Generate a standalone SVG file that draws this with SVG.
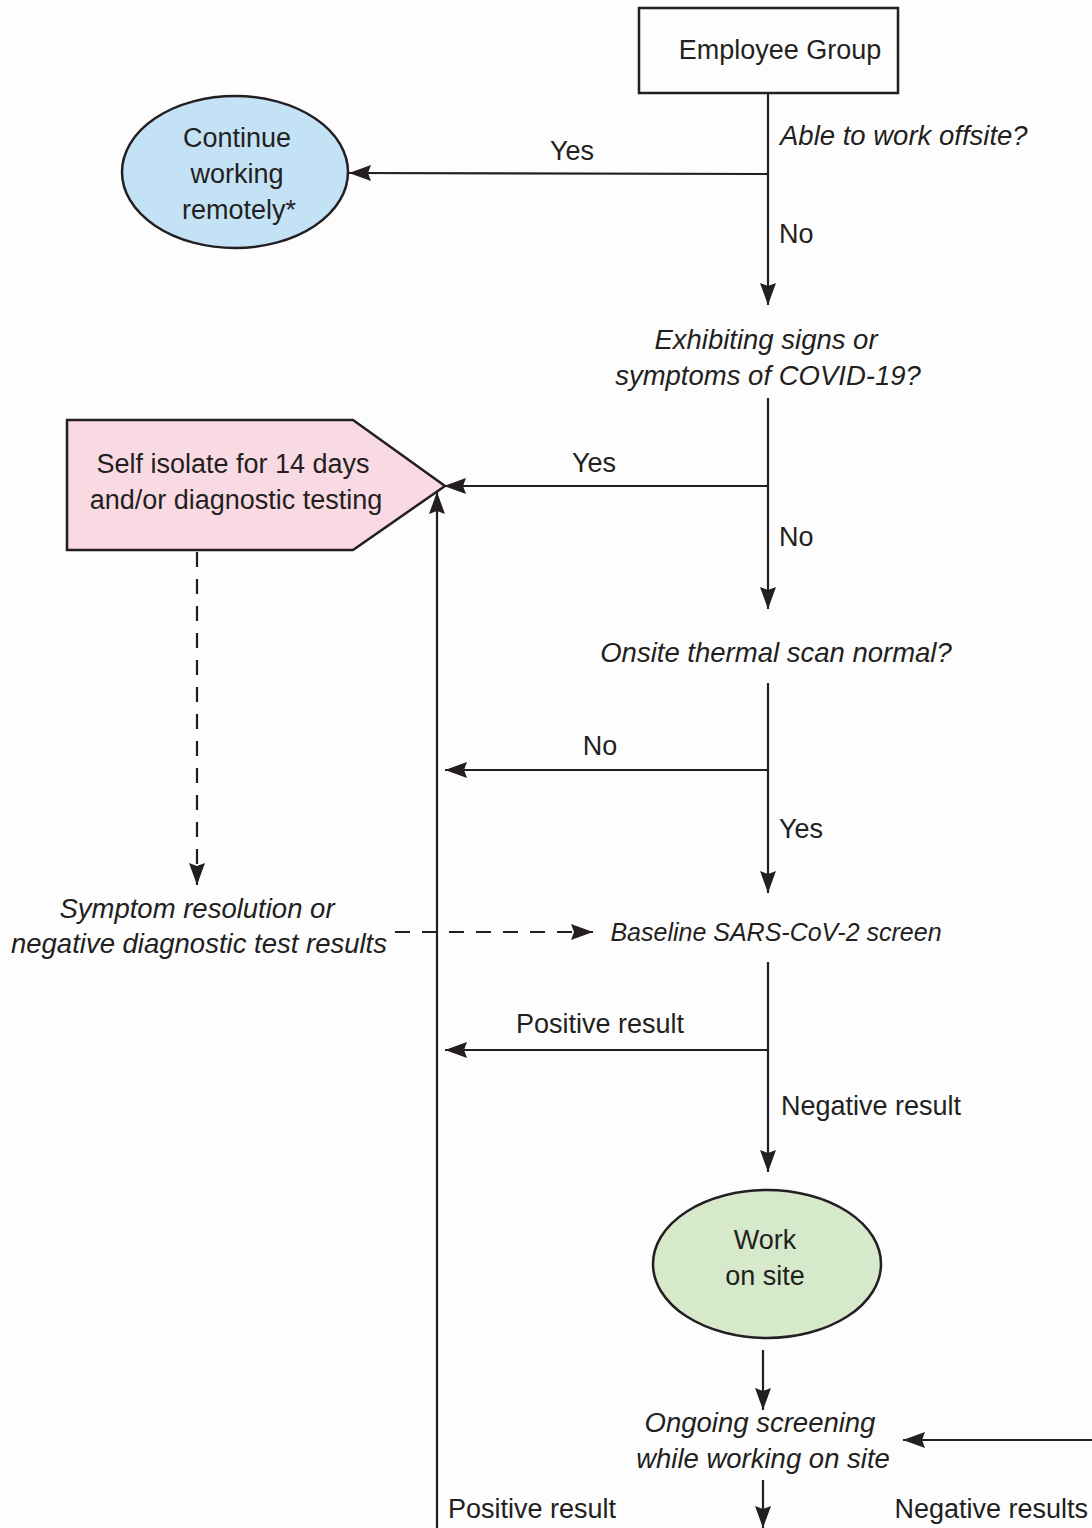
<svg xmlns="http://www.w3.org/2000/svg" width="1092" height="1528" viewBox="0 0 1092 1528">
<style>
text{font-family:"Liberation Sans",Arial,sans-serif;font-size:27px;fill:#231f20}
.i{font-style:italic;font-size:27.5px}
.m{text-anchor:middle}
.ln{stroke:#231f20;stroke-width:2.2;fill:none}
.ds{stroke-dasharray:15 12}
.node{stroke:#231f20;stroke-width:2.5}
</style>
<defs>
<marker id="ah" viewBox="0 0 22 16" refX="22" refY="8" markerWidth="22" markerHeight="16" markerUnits="userSpaceOnUse" orient="auto"><path d="M0,0 L22,8 L0,16 L3,8 z" fill="#231f20"/></marker>
</defs>
<rect width="1092" height="1528" fill="#fdfdfd"/>
<g id="connectors">
<line class="ln" x1="768" y1="93" x2="768" y2="305" marker-end="url(#ah)"/>
<line class="ln" x1="768" y1="174" x2="349" y2="173" marker-end="url(#ah)"/>
<line class="ln" x1="768" y1="398" x2="768" y2="609" marker-end="url(#ah)"/>
<line class="ln" x1="768" y1="486" x2="444" y2="486" marker-end="url(#ah)"/>
<line class="ln" x1="768" y1="683" x2="768" y2="893" marker-end="url(#ah)"/>
<line class="ln" x1="768" y1="770" x2="445" y2="770" marker-end="url(#ah)"/>
<line class="ln" x1="768" y1="962" x2="768" y2="1172" marker-end="url(#ah)"/>
<line class="ln" x1="768" y1="1050" x2="445" y2="1050" marker-end="url(#ah)"/>
<line class="ln" x1="437" y1="1528" x2="437" y2="492" marker-end="url(#ah)"/>
<line class="ln ds" x1="197" y1="552" x2="197" y2="885" marker-end="url(#ah)"/>
<line class="ln ds" x1="395" y1="932" x2="593" y2="932" marker-end="url(#ah)"/>
<line class="ln" x1="763" y1="1350" x2="763" y2="1410" marker-end="url(#ah)"/>
<line class="ln" x1="1092" y1="1440" x2="903" y2="1440" marker-end="url(#ah)"/>
<line class="ln" x1="763" y1="1480" x2="763" y2="1528" marker-end="url(#ah)"/>
</g>
<g id="edge-labels">
<text x="572" y="160" class="m">Yes</text>
<text x="779" y="243">No</text>
<text x="594" y="472" class="m">Yes</text>
<text x="779" y="546">No</text>
<text x="600" y="755" class="m">No</text>
<text x="779" y="838">Yes</text>
<text x="600" y="1033" class="m">Positive result</text>
<text x="781" y="1115">Negative result</text>
<text x="448" y="1518">Positive result</text>
<text x="1088" y="1518" text-anchor="end">Negative results</text>
</g>
<g id="employee-group">
<rect class="node" x="639" y="8" width="259" height="85" fill="#fdfdfd"/>
<text x="780" y="59" class="m">Employee Group</text>
</g>
<g id="q-offsite"><text x="780" y="145" class="i">Able to work offsite?</text></g>
<g id="continue-remote">
<ellipse class="node" cx="235" cy="172" rx="113" ry="76" fill="#c4e2f5"/>
<text x="237" y="147" class="m">Continue</text>
<text x="237" y="183" class="m">working</text>
<text x="239" y="219" class="m">remotely*</text>
</g>
<g id="q-symptoms">
<text x="766" y="349" class="m i">Exhibiting signs or</text>
<text x="768" y="385" class="m i">symptoms of COVID-19?</text>
</g>
<g id="self-isolate">
<polygon class="node" points="67,420 353,420 445,486 353,550 67,550" fill="#f9d9e2"/>
<text x="233" y="473" class="m">Self isolate for 14 days</text>
<text x="236" y="509" class="m">and/or diagnostic testing</text>
</g>
<g id="symptom-resolution">
<text x="197" y="918" class="m i">Symptom resolution or</text>
<text x="199" y="953" class="m i">negative diagnostic test results</text>
</g>
<g id="q-thermal"><text x="776" y="662" class="m i">Onsite thermal scan normal?</text></g>
<g id="baseline-screen"><text x="776" y="941" class="m i" style="font-size:25px">Baseline SARS-CoV-2 screen</text></g>
<g id="work-on-site">
<ellipse class="node" cx="767" cy="1264" rx="114" ry="74" fill="#d7e9cb"/>
<text x="765" y="1249" class="m">Work</text>
<text x="765" y="1285" class="m">on site</text>
</g>
<g id="ongoing-screening">
<text x="760" y="1432" class="m i">Ongoing screening</text>
<text x="763" y="1468" class="m i">while working on site</text>
</g>
</svg>
